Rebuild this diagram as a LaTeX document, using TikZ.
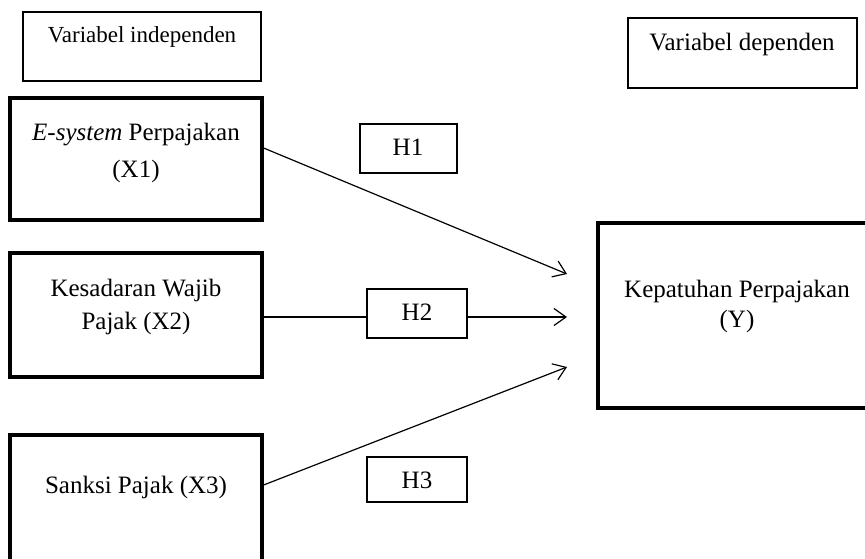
\documentclass[tikz,border=0pt]{standalone}
\usepackage{fontspec}
\setmainfont{Liberation Serif}
\usetikzlibrary{arrows.meta}
\begin{document}
\begin{tikzpicture}[x=1pt,y=-1pt,
  thinbox/.style={draw, line width=1.3pt, inner sep=0pt},
  thickbox/.style={draw, line width=3.2pt, inner sep=0pt},
  txt/.style={anchor=base, inner sep=0pt, font=\fontsize{25}{30}\selectfont},
  arr/.style={line width=1.2pt, -{Straight Barb[length=12pt,width=17pt,line width=1.2pt]}},
  conn/.style={line width=1.2pt}]
\useasboundingbox (0,0) rectangle (865,558);
% header boxes
\node[thinbox, minimum width=238pt, minimum height=69pt] (bind) at (142,46.5) {};
\node[thinbox, minimum width=229pt, minimum height=70pt] (bdep) at (742.5,53) {};
\node[txt, font=\fontsize{23}{28}\selectfont] (tind) at (142,42) {Variabel independen};
\node[txt] (tdep) at (742,50) {Variabel dependen};
% variable boxes
\node[thickbox, minimum width=252pt, minimum height=122pt] (x1) at (136,159) {};
\node[thickbox, minimum width=252pt, minimum height=124pt] (x2) at (136,315) {};
\node[thickbox, minimum width=252pt, minimum height=126pt] (x3) at (136,498) {};
\node[thickbox, minimum width=278pt, minimum height=185pt] (y) at (737,315.5) {};
\node[txt] (tx1a) at (136,140) {\textit{E-system} Perpajakan};
\node[txt] (tx1b) at (136,177) {(X1)};
\node[txt] (tx2a) at (136,296) {Kesadaran Wajib};
\node[txt] (tx2b) at (136,329) {Pajak (X2)};
\node[txt] (tx3) at (136,493) {Sanksi Pajak (X3)};
\node[txt] (tya) at (737,297) {Kepatuhan Perpajakan};
\node[txt] (tyb) at (737,327) {(Y)};
% hypothesis boxes
\node[thinbox, minimum width=97pt, minimum height=49pt] (h1) at (408.5,148.5) {};
\node[thinbox, minimum width=100pt, minimum height=49pt] (h2) at (417,313.5) {};
\node[thinbox, minimum width=100pt, minimum height=45pt] (h3) at (417,479.5) {};
\node[txt] (th1) at (408,155) {H1};
\node[txt] (th2) at (417,320) {H2};
\node[txt] (th3) at (417,488) {H3};
% arrows
\coordinate (e1) at (567,274);
\coordinate (e2) at (567,317);
\coordinate (e3) at (567,367);
\draw[arr] ([yshift=11pt]x1.east) -- (e1);
\draw[conn] (x2.east |- e2) -- (h2.west |- e2);
\draw[arr] (h2.east |- e2) -- (e2);
\draw[arr] ([yshift=13pt]x3.east) -- (e3);
\end{tikzpicture}
\end{document}
